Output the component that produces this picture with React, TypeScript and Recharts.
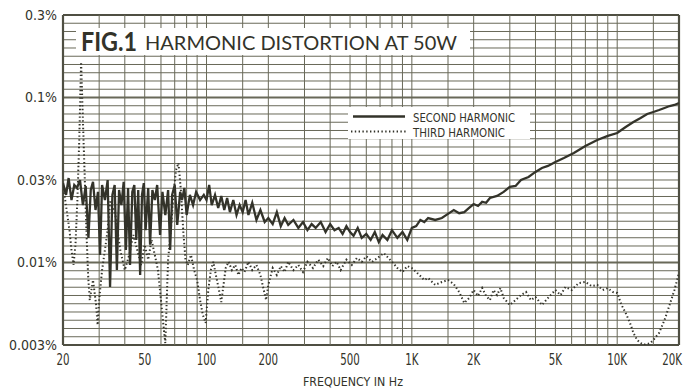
import React from "react";
import { LineChart, Line, XAxis, YAxis, ReferenceLine } from "recharts";

// Frequency (Hz) and distortion (%)
const SECOND_FREQ = [
  20, 20.7, 21.3, 22, 22.7, 23.4, 24.2, 25, 25.8, 26.6, 27.3, 28, 28.8, 29.6, 30.3, 31, 32, 33, 33.9, 34.8,
  35.7, 36.6, 37.5, 38.5, 39.5, 40.5, 41.5, 42.4, 43.5, 44.5, 45.5, 46.5, 47.5, 48.5, 49.5, 50.5, 52, 53.1, 54.5, 56,
  57.5, 59.4, 61, 63, 65, 66.5, 68, 70, 72, 74.4, 76, 78, 80, 83, 86, 89, 93, 97, 100, 103,
  106, 110, 114, 118, 122, 126, 130, 135, 140, 145, 150, 155, 160, 167, 175, 183, 192, 200, 210, 220,
  230, 240, 250, 265, 280, 295, 310, 325, 340, 360, 380, 400, 420, 440, 460, 480, 500, 520, 545, 570,
  600, 630, 660, 690, 720, 760, 800, 850, 900, 950, 1000, 1050, 1100, 1150, 1200, 1300, 1400, 1500, 1600, 1700,
  1800, 1900, 2000, 2100, 2200, 2300, 2400, 2600, 2800, 3000, 3200, 3400, 3700, 4000, 4300, 4600, 5000, 5500, 6150, 7000,
  8000, 9000, 10000, 11000, 12000, 13000, 14000, 15000, 16000, 17000, 18000, 19000, 20000,
];
const SECOND_VAL = [
  0.0303, 0.0257, 0.0325, 0.0239, 0.0295, 0.0283, 0.0316, 0.0223, 0.0291, 0.0141, 0.0275, 0.0308, 0.0208, 0.0268, 0.0111, 0.0295, 0.0239, 0.0316, 0.0071, 0.0257,
  0.0295, 0.009, 0.0275, 0.0223, 0.0308, 0.0119, 0.0283, 0.00966, 0.0268, 0.0295, 0.0137, 0.0275, 0.0084, 0.0257, 0.0303, 0.0157, 0.0283, 0.0128, 0.0275, 0.0239,
  0.0295, 0.0147, 0.0268, 0.0194, 0.0275, 0.0119, 0.0257, 0.0295, 0.0169, 0.0268, 0.0239, 0.0283, 0.0194, 0.0257, 0.0223, 0.0268, 0.0239, 0.0257, 0.0239, 0.0295,
  0.0223, 0.0257, 0.0214, 0.0253, 0.0208, 0.0246, 0.0202, 0.0239, 0.0194, 0.0223, 0.0202, 0.0239, 0.0194, 0.023, 0.0181, 0.0208, 0.0176, 0.0186, 0.0171, 0.0202,
  0.0166, 0.0186, 0.0169, 0.0181, 0.0162, 0.0176, 0.0157, 0.0171, 0.0162, 0.0176, 0.0153, 0.0171, 0.0157, 0.0162, 0.0149, 0.0166, 0.0153, 0.0145, 0.0162, 0.0141,
  0.0149, 0.0137, 0.0153, 0.0133, 0.0147, 0.0137, 0.0157, 0.0141, 0.0153, 0.0137, 0.0162, 0.0166, 0.0181, 0.0176, 0.0186, 0.0181, 0.0186, 0.0197, 0.0208, 0.0199,
  0.0202, 0.0214, 0.0226, 0.022, 0.0233, 0.023, 0.0246, 0.0253, 0.0268, 0.0287, 0.0291, 0.0316, 0.033, 0.0354, 0.0374, 0.0385, 0.0407, 0.043, 0.0461, 0.0508,
  0.0553, 0.0585, 0.0609, 0.0663, 0.071, 0.0751, 0.0794, 0.0817, 0.084, 0.0864, 0.0888, 0.0901, 0.0926,
];

const THIRD_FREQ = [
  20, 20.5, 21, 21.5, 22, 22.5, 23, 23.5, 24, 24.5, 25, 25.5, 26, 26.5, 27, 28, 29, 29.5, 30, 31,
  32, 33, 34, 36, 38, 40, 42, 44, 46, 48, 50, 52, 54, 56, 58, 60, 62, 63, 64, 65,
  67, 69, 71, 73, 75, 77, 79, 81, 84, 87, 90, 93, 96, 99, 102, 105, 108, 111, 115, 118,
  121, 124, 128, 133, 138, 143, 148, 153, 160, 167, 175, 183, 190, 195, 200, 210, 220, 230, 240, 250,
  265, 280, 295, 310, 330, 350, 370, 390, 410, 430, 450, 480, 510, 540, 570, 600, 640, 680, 730, 800,
  850, 900, 950, 1000, 1050, 1100, 1150, 1200, 1300, 1400, 1500, 1600, 1700, 1800, 1900, 2000, 2100, 2200, 2300, 2400,
  2500, 2600, 2700, 2800, 3000, 3200, 3400, 3600, 3800, 4000, 4300, 4600, 5000, 5300, 5600, 6000, 6500, 7000, 7500, 8000,
  8500, 9000, 9500, 10000, 10500, 11000, 11500, 12000, 12500, 13000, 13500, 14000, 14500, 15000, 16000, 17000, 18000, 19000, 20000,
];
const THIRD_VAL = [
  0.0295, 0.0239, 0.0194, 0.0157, 0.0119, 0.00966, 0.0128, 0.0239, 0.0553, 0.164, 0.073, 0.0339, 0.0157, 0.0084, 0.00592, 0.00783, 0.00553, 0.00418, 0.00592, 0.009,
  0.0119, 0.0157, 0.0239, 0.0194, 0.0119, 0.009, 0.0111, 0.0147, 0.0119, 0.00966, 0.0128, 0.0104, 0.0137, 0.0111, 0.009, 0.00592, 0.0039, 0.00325, 0.00592, 0.0104,
  0.0157, 0.0257, 0.0363, 0.0401, 0.0275, 0.0157, 0.0104, 0.00966, 0.0111, 0.009, 0.00783, 0.00592, 0.00481, 0.0043, 0.00681, 0.009, 0.0101, 0.0084, 0.00681, 0.00576,
  0.00731, 0.00926, 0.0101, 0.009, 0.00966, 0.0084, 0.00926, 0.00876, 0.0101, 0.009, 0.00966, 0.0084, 0.00681, 0.00592, 0.00731, 0.00926, 0.0084, 0.0095, 0.00876, 0.0101,
  0.009, 0.00966, 0.00876, 0.0101, 0.00926, 0.0104, 0.0095, 0.01065, 0.0095, 0.0101, 0.009, 0.0104, 0.00966, 0.01065, 0.0101, 0.0109, 0.0101, 0.01065, 0.0114, 0.0101,
  0.00926, 0.00876, 0.0095, 0.00926, 0.00876, 0.00828, 0.00783, 0.00805, 0.00731, 0.00762, 0.00783, 0.0074, 0.00663, 0.00568, 0.00609, 0.00681, 0.00627, 0.007, 0.00627, 0.00592,
  0.00681, 0.00635, 0.007, 0.00609, 0.00553, 0.00592, 0.00635, 0.00663, 0.00592, 0.00618, 0.00553, 0.00609, 0.00681, 0.00635, 0.0071, 0.00681, 0.00751, 0.00762, 0.0072, 0.00731,
  0.00681, 0.007, 0.00663, 0.00654, 0.00553, 0.00494, 0.00436, 0.00374, 0.00339, 0.00325, 0.00318, 0.0032, 0.00325, 0.00339, 0.00374, 0.00448, 0.00553, 0.00681, 0.00864,
];

const X_TICKS = [20, 50, 100, 200, 500, 1000, 2000, 5000, 10000, 20000];
const X_LABELS = ["20", "50", "100", "200", "500", "1K", "2K", "5K", "10K", "20K"];
const Y_TICKS = [0.3162, 0.1, 0.03162, 0.01, 0.003162];
const Y_LABELS = ["0.3%", "0.1%", "0.03%", "0.01%", "0.003%"];

const X_GRID = [
  20, 30, 40, 50, 60, 70, 80, 90, 100, 150, 200, 300, 400, 500, 600, 700, 800, 900, 1000, 1500,
  2000, 3000, 4000, 5000, 6000, 7000, 8000, 9000, 10000, 15000, 20000,
];
// graph paper: one horizontal rule per dB over a 40 dB span
const Y_GRID = Array.from({ length: 41 }, (_, k) => Math.pow(10, -0.5 - k / 20));
const Y_MAJOR = [0.1, 0.01];

const X_DOMAIN: [number, number] = [20, 20000];
const Y_DOMAIN: [number, number] = [0.003162, 0.3162];

const secondData = SECOND_FREQ.map((f, i) => ({ f, v: SECOND_VAL[i] }));
const thirdData = THIRD_FREQ.map((f, i) => ({ f, v: THIRD_VAL[i] }));

const INK = "#33332a";
const GRID = "#696959";
const COND = "'DejaVu Sans Condensed', 'Liberation Sans Narrow', 'DejaVu Sans', sans-serif";

const XTick = (props: any) => {
  const { x, y, payload } = props;
  const idx = X_TICKS.indexOf(payload.value);
  const label = idx >= 0 ? X_LABELS[idx] : "";
  const last = idx === X_TICKS.length - 1;
  return (
    <g transform={`translate(${last ? x + 3 : x},${y + 20}) scale(0.76,1)`}>
      <text
        x={0}
        y={0}
        textAnchor={last ? "end" : "middle"}
        fontFamily={COND}
        fontSize={15}
        fill={INK}
      >
        {label}
      </text>
    </g>
  );
};

const YTick = (props: any) => {
  const { x, y, payload } = props;
  let idx = -1;
  Y_TICKS.forEach((t, i) => {
    if (Math.abs(t - payload.value) / t < 0.01) idx = i;
  });
  const label = idx >= 0 ? Y_LABELS[idx] : "";
  return (
    <text x={x} y={y + 5} textAnchor="end" fontFamily={COND} fontSize={14} fill={INK}>
      {label}
    </text>
  );
};

export default function App() {
  return (
    <div style={{ position: "absolute", left: 0, top: 0, width: 688, height: 389, background: "#ffffff" }}>
      <LineChart width={688} height={389} margin={{ top: 15, right: 9, bottom: 0, left: 0 }}>
        <XAxis
          dataKey="f"
          type="number"
          scale="log"
          domain={X_DOMAIN}
          allowDataOverflow
          ticks={X_TICKS}
          interval={0}
          height={44}
          axisLine={false}
          tickLine={false}
          tickSize={0}
          tickMargin={0}
          tick={<XTick />}
        />
        <YAxis
          type="number"
          scale="log"
          domain={Y_DOMAIN}
          allowDataOverflow
          ticks={Y_TICKS}
          interval={0}
          width={63}
          axisLine={false}
          tickLine={false}
          tickSize={0}
          tickMargin={6}
          tick={<YTick />}
        />
        {Y_GRID.map((v, i) => {
          const edge = i === 0 || i === Y_GRID.length - 1;
          const major = Y_MAJOR.some((m) => Math.abs(m - v) / m < 0.01);
          return (
            <ReferenceLine
              key={"h" + i}
              y={v}
              stroke={edge ? "#4f4f43" : GRID}
              strokeWidth={edge ? 2.2 : major ? 1.8 : 1}
              ifOverflow="visible"
            />
          );
        })}
        {X_GRID.map((v, i) => {
          const edge = i === 0 || i === X_GRID.length - 1;
          return (
            <ReferenceLine
              key={"v" + i}
              x={v}
              stroke={edge ? "#4f4f43" : GRID}
              strokeWidth={edge ? 2.2 : 1}
              ifOverflow="visible"
            />
          );
        })}
        <Line
          data={thirdData}
          dataKey="v"
          type="linear"
          stroke={INK}
          strokeWidth={2}
          strokeDasharray="1.4 2.4"
          dot={false}
          isAnimationActive={false}
        />
        <Line
          data={secondData}
          dataKey="v"
          type="linear"
          stroke={INK}
          strokeWidth={2.3}
          dot={false}
          isAnimationActive={false}
        />
      </LineChart>
      <svg
        width={688}
        height={389}
        style={{ position: "absolute", left: 0, top: 0, pointerEvents: "none" }}
      >
        <rect x={76} y={28} width={394} height={27} fill="#ffffff" />
        <text
          x={81}
          y={51}
          fontFamily="Lato, 'DejaVu Sans', sans-serif"
          fontWeight={700}
          fontSize={26}
          fill={INK}
          textLength={56}
          lengthAdjust="spacingAndGlyphs"
        >
          FIG.1
        </text>
        <text
          x={145}
          y={50}
          fontFamily="Lato, 'DejaVu Sans', sans-serif"
          fontSize={19}
          fill={INK}
          textLength={312}
          lengthAdjust="spacingAndGlyphs"
        >
          HARMONIC DISTORTION AT 50W
        </text>
        <rect x={348} y={107} width={182} height={32} fill="#ffffff" />
        <line x1={353} y1={116.5} x2={405} y2={116.5} stroke={INK} strokeWidth={2.3} />
        <line x1={351} y1={131.5} x2={408} y2={131.5} stroke={INK} strokeWidth={2} strokeDasharray="1.4 2.4" />
        <text x={413} y={121.5} fontFamily={COND} fontSize={13} fill={INK} textLength={102} lengthAdjust="spacingAndGlyphs">
          SECOND HARMONIC
        </text>
        <text x={413} y={136.5} fontFamily={COND} fontSize={13} fill={INK} textLength={92} lengthAdjust="spacingAndGlyphs">
          THIRD HARMONIC
        </text>
        <text x={303} y={386} fontFamily={COND} fontSize={13} fill={INK} textLength={100} lengthAdjust="spacingAndGlyphs">
          FREQUENCY IN Hz
        </text>
      </svg>
    </div>
  );
}
